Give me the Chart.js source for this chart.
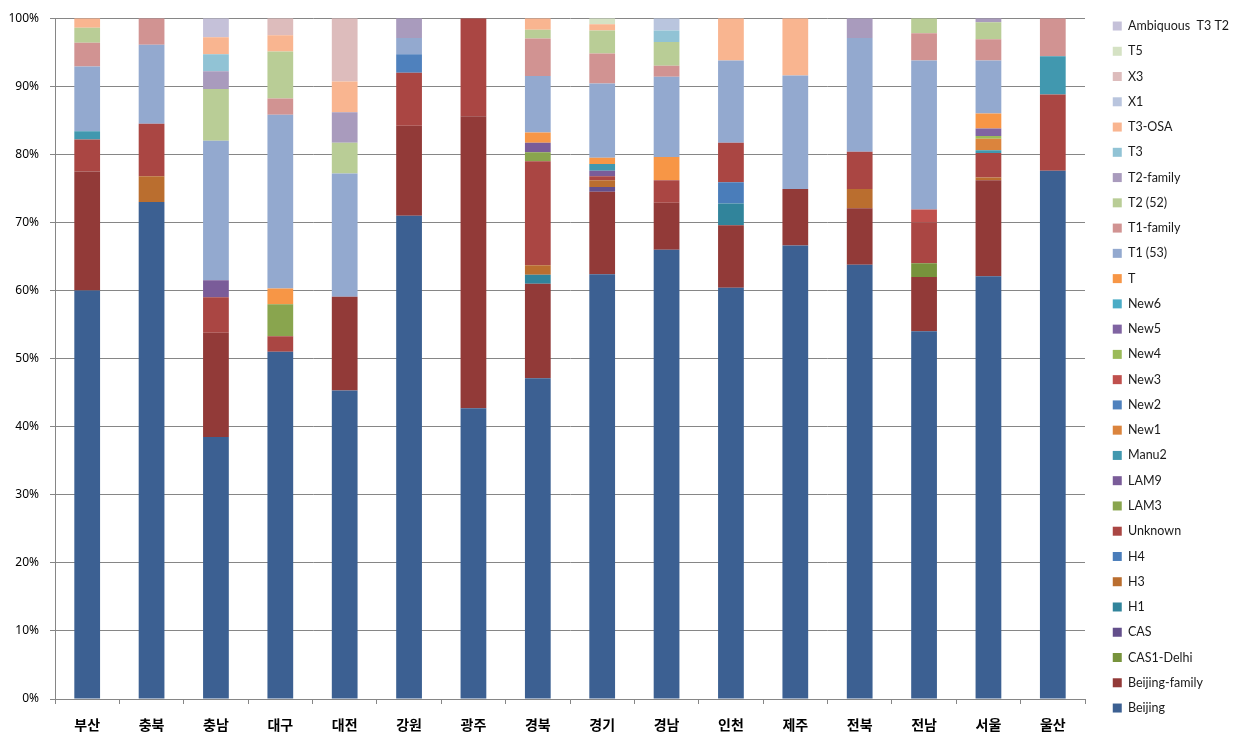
<!DOCTYPE html>
<html>
<head>
<meta charset="utf-8">
<script src="https://cdn.jsdelivr.net/npm/chart.js@4/dist/chart.umd.min.js"></script>
<style>
  html, body { margin: 0; padding: 0; background: #fff; }
  #wrap { width: 1235px; height: 747px; }
</style>
</head>
<body>
<div id="wrap"><canvas id="lineageChart"></canvas></div>
<script>
// regions, left to right
const regions = ['부산','충북','충남','대구','대전','강원','광주','경북','경기','경남','인천','제주','전북','전남','서울','울산'];
const yTicks = [0,10,20,30,40,50,60,70,80,90,100];

// percent per region, bottom of the stack first
const beijing       = [60, 73, 38.5, 51, 45.3, 71, 42.7, 47.1, 62.4, 66, 60.4, 66.6, 63.8, 54, 62.1, 77.6];
const beijingFamily = [17.5, 0, 15.3, 0, 13.8, 13.2, 42.9, 13.9, 12.1, 6.9, 9.2, 8.3, 8.3, 8.0, 14.1, 0];
const cas1Delhi     = [0, 0, 0, 0, 0, 0, 0, 0, 0, 0, 0, 0, 0, 2.0, 0, 0];
const cas           = [0, 0, 0, 0, 0, 0, 0, 0, 0.7, 0, 0, 0, 0, 0, 0, 0];
const h1            = [0, 0, 0, 0, 0, 0, 0, 1.3, 0, 0, 3.2, 0, 0, 0, 0, 0];
const h3            = [0, 3.8, 0, 0, 0, 0, 0, 1.4, 1.0, 0, 0, 0, 2.8, 0, 0.4, 0];
const h4            = [0, 0, 0, 0, 0, 0, 0, 0, 0, 0, 3.1, 0, 0, 0, 0, 0];
const unknown       = [4.7, 7.7, 5.2, 2.3, 0, 7.8, 14.4, 15.3, 0.6, 3.3, 5.8, 0, 5.5, 6.0, 3.6, 11.2];
const lam3          = [0, 0, 0, 4.7, 0, 0, 0, 1.3, 0, 0, 0, 0, 0, 0, 0, 0];
const lam9          = [0, 0, 2.5, 0, 0, 0, 0, 1.4, 0.8, 0, 0, 0, 0, 0, 0, 0];
const manu2         = [1.2, 0, 0, 0, 0, 0, 0, 0, 1.0, 0, 0, 0, 0, 0, 0.4, 5.6];
const new1          = [0, 0, 0, 0, 0, 0, 0, 0, 0, 0, 0, 0, 0, 0, 1.7, 0];
const new2          = [0, 0, 0, 0, 0, 2.7, 0, 0, 0, 0, 0, 0, 0, 0, 0, 0];
const new3          = [0, 0, 0, 0, 0, 0, 0, 0, 0, 0, 0, 0, 0, 1.9, 0, 0];
const new4          = [0, 0, 0, 0, 0, 0, 0, 0, 0, 0, 0, 0, 0, 0, 0.4, 0];
const new5          = [0, 0, 0, 0, 0, 0, 0, 0, 0, 0, 0, 0, 0, 0, 1.1, 0];
const new6          = [0, 0, 0, 0, 0, 0, 0, 0, 0, 0, 0, 0, 0, 0, 0, 0];
const tType         = [0, 0, 0, 2.3, 0, 0, 0, 1.5, 0.9, 3.4, 0, 0, 0, 0, 2.2, 0];
const t1            = [9.5, 11.6, 20.5, 25.5, 18.1, 2.4, 0, 8.3, 10.9, 11.8, 12.1, 16.7, 16.7, 21.9, 7.8, 0];
const t1Family      = [3.5, 3.9, 0, 2.4, 0, 0, 0, 5.5, 4.4, 1.6, 0, 0, 0, 4.0, 3.1, 5.6];
const t2            = [2.2, 0, 7.6, 6.9, 4.5, 0, 0, 1.3, 3.4, 3.5, 0, 0, 0, 2.2, 2.5, 0];
const t2Family      = [0, 0, 2.6, 0, 4.5, 2.9, 0, 0, 0, 0, 0, 0, 2.9, 0, 0.6, 0];
const t3            = [0, 0, 2.5, 0, 0, 0, 0, 0, 0, 1.7, 0, 0, 0, 0, 0, 0];
const t3Osa         = [1.4, 0, 2.5, 2.4, 4.5, 0, 0, 1.7, 0.9, 0, 6.2, 8.4, 0, 0, 0, 0];
const x1            = [0, 0, 0, 0, 0, 0, 0, 0, 0, 1.8, 0, 0, 0, 0, 0, 0];
const x3            = [0, 0, 0, 2.5, 9.3, 0, 0, 0, 0, 0, 0, 0, 0, 0, 0, 0];
const t5            = [0, 0, 0, 0, 0, 0, 0, 0, 0.9, 0, 0, 0, 0, 0, 0, 0];
const ambiguous     = [0, 0, 2.8, 0, 0, 0, 0, 0, 0, 0, 0, 0, 0, 0, 0, 0];

const series = [
  ['Beijing', beijing, '#3c6092'],
  ['Beijing-family', beijingFamily, '#923a38'],
  ['CAS1-Delhi', cas1Delhi, '#77933c'],
  ['CAS', cas, '#634f8b'],
  ['H1', h1, '#31849b'],
  ['H3', h3, '#ba6e2f'],
  ['H4', h4, '#4a7dba'],
  ['Unknown', unknown, '#aa4643'],
  ['LAM3', lam3, '#89a54e'],
  ['LAM9', lam9, '#7a5c99'],
  ['Manu2', manu2, '#4198af'],
  ['New1', new1, '#db843d'],
  ['New2', new2, '#4f81bd'],
  ['New3', new3, '#c0504d'],
  ['New4', new4, '#9bbb59'],
  ['New5', new5, '#8064a2'],
  ['New6', new6, '#4bacc6'],
  ['T', tType, '#f79646'],
  ['T1 (53)', t1, '#93a9cf'],
  ['T1-family', t1Family, '#d19392'],
  ['T2 (52)', t2, '#b9cd96'],
  ['T2-family', t2Family, '#a99bbd'],
  ['T3', t3, '#91c3d5'],
  ['T3-OSA', t3Osa, '#f9b590'],
  ['X1', x1, '#b9c5de'],
  ['X3', x3, '#ddbcbc'],
  ['T5', t5, '#d5e2c4'],
  ['Ambiquous  T3 T2', ambiguous, '#c5c1d9']
];

const gridGray = '#868686';

// legend: fixed width so the plot ends where it does in the original, then nudge it
const legendPlace = {
  id: 'legendPlace',
  beforeLayout(chart) {
    const lg = chart.legend;
    if (lg && !lg._fixed) {
      const fit = lg.fit.bind(lg);
      lg.fit = function() { fit(); this.width = 150; };
      lg._fixed = true;
    }
  },
  afterLayout(chart) {
    const lg = chart.legend;
    if (!lg) return;
    lg.left += 15; lg.right += 15;
    lg.top -= 4; lg.bottom -= 4;
  }
};

const ctx = document.getElementById('lineageChart').getContext('2d');
const lineageChart = new Chart(ctx, {
  type: 'bar',
  data: {
    labels: regions,
    datasets: series.map(s => ({
      label: s[0],
      data: s[1],
      backgroundColor: s[2],
      borderWidth: 0,
      barPercentage: 0.4,
      categoryPercentage: 1
    }))
  },
  options: {
    responsive: true,
    maintainAspectRatio: false,
    animation: false,
    layout: { padding: { top: 11, right: 0, bottom: 0, left: 0 } },
    plugins: {
      legend: {
        position: 'right',
        align: 'start',
        reverse: true,
        labels: {
          boxWidth: 9,
          boxHeight: 9,
          padding: 12.76,
          color: '#1a1a1a',
          font: { family: 'Lato', size: 12.5 }
        }
      },
      tooltip: { enabled: false }
    },
    scales: {
      x: {
        stacked: true,
        grid: { display: true, drawOnChartArea: false, color: gridGray, tickLength: 5 },
        border: { color: gridGray },
        ticks: { color: '#000', padding: 12, font: { family: 'Noto Sans CJK KR', size: 14, weight: 'bold' } },
        afterFit(s) { s.height = 48; }
      },
      y: {
        stacked: true,
        min: 0,
        max: 100,
        afterBuildTicks(s) { s.ticks = yTicks.map(v => ({ value: v })); },
        grid: { color: gridGray, tickLength: 5 },
        border: { color: gridGray },
        ticks: {
          color: '#000',
          padding: 11,
          font: { family: 'Noto Sans', size: 12 },
          callback: v => v + '%'
        },
        afterFit(s) { s.width = 55; }
      }
    }
  },
  plugins: [legendPlace]
});
</script>
</body>
</html>
